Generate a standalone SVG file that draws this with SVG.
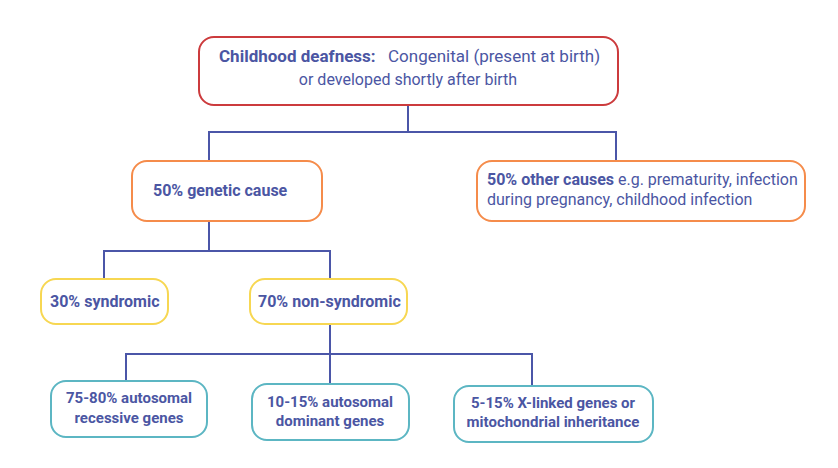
<svg xmlns="http://www.w3.org/2000/svg" width="838" height="468" viewBox="0 0 838 468">
<style>
.box{fill:#fff;stroke-width:2}
.red{stroke:#cc3b3d}
.orange{stroke:#f58c4b}
.yellow{stroke:#f7d752}
.teal{stroke:#5cb6c3}
text{font-family:Roboto,"Liberation Sans",sans-serif;fill:#4b56a3}
.b{font-weight:bold}
.c{text-anchor:middle}
.conn{fill:none;stroke:#4b56a8;stroke-width:2}
</style>
<rect width="838" height="468" fill="#fff"/>
<g id="connectors" class="conn">
<path d="M408 105V132M209 161V132H616V161"/>
<path d="M209 221V251M104 279V251H330V279"/>
<path d="M330 324V354M126 381V354H532V386M330 354V384"/>
</g>
<g id="root">
<rect class="box red" x="199" y="37" width="419" height="68" rx="15"/>
<text y="62" font-size="17"><tspan x="219" class="b">Childhood deafness:</tspan><tspan x="388">Congenital (present at birth)</tspan></text>
<text x="408" y="85" class="c" font-size="16">or developed shortly after birth</text>
</g>
<g id="genetic">
<rect class="box orange" x="132" y="161" width="190" height="60" rx="15"/>
<text x="153" y="196" class="b" font-size="16">50% genetic cause</text>
</g>
<g id="other">
<rect class="box orange" x="477" y="161" width="328" height="60" rx="15"/>
<text x="487" y="185" font-size="16"><tspan class="b">50% other causes</tspan> e.g. prematurity, infection</text>
<text x="487" y="205" font-size="16">during pregnancy, childhood infection</text>
</g>
<g id="syndromic">
<rect class="box yellow" x="41" y="279" width="127" height="45" rx="15"/>
<text x="50" y="307" class="b" font-size="16">30% syndromic</text>
</g>
<g id="nonsyndromic">
<rect class="box yellow" x="250" y="279" width="157" height="45" rx="15"/>
<text x="258" y="307" class="b" font-size="16">70% non-syndromic</text>
</g>
<g id="recessive">
<rect class="box teal" x="51" y="381" width="156" height="56" rx="15"/>
<text x="129" y="403" class="b c" font-size="15">75-80% autosomal</text>
<text x="129" y="423" class="b c" font-size="15">recessive genes</text>
</g>
<g id="dominant">
<rect class="box teal" x="252" y="384" width="157" height="56" rx="15"/>
<text x="330" y="407" class="b c" font-size="15">10-15% autosomal</text>
<text x="330" y="426" class="b c" font-size="15">dominant genes</text>
</g>
<g id="xlinked">
<rect class="box teal" x="454" y="386" width="199" height="56" rx="15"/>
<text x="553" y="408" class="b c" font-size="15">5-15% X-linked genes or</text>
<text x="553" y="427" class="b c" font-size="15">mitochondrial inheritance</text>
</g>
</svg>
